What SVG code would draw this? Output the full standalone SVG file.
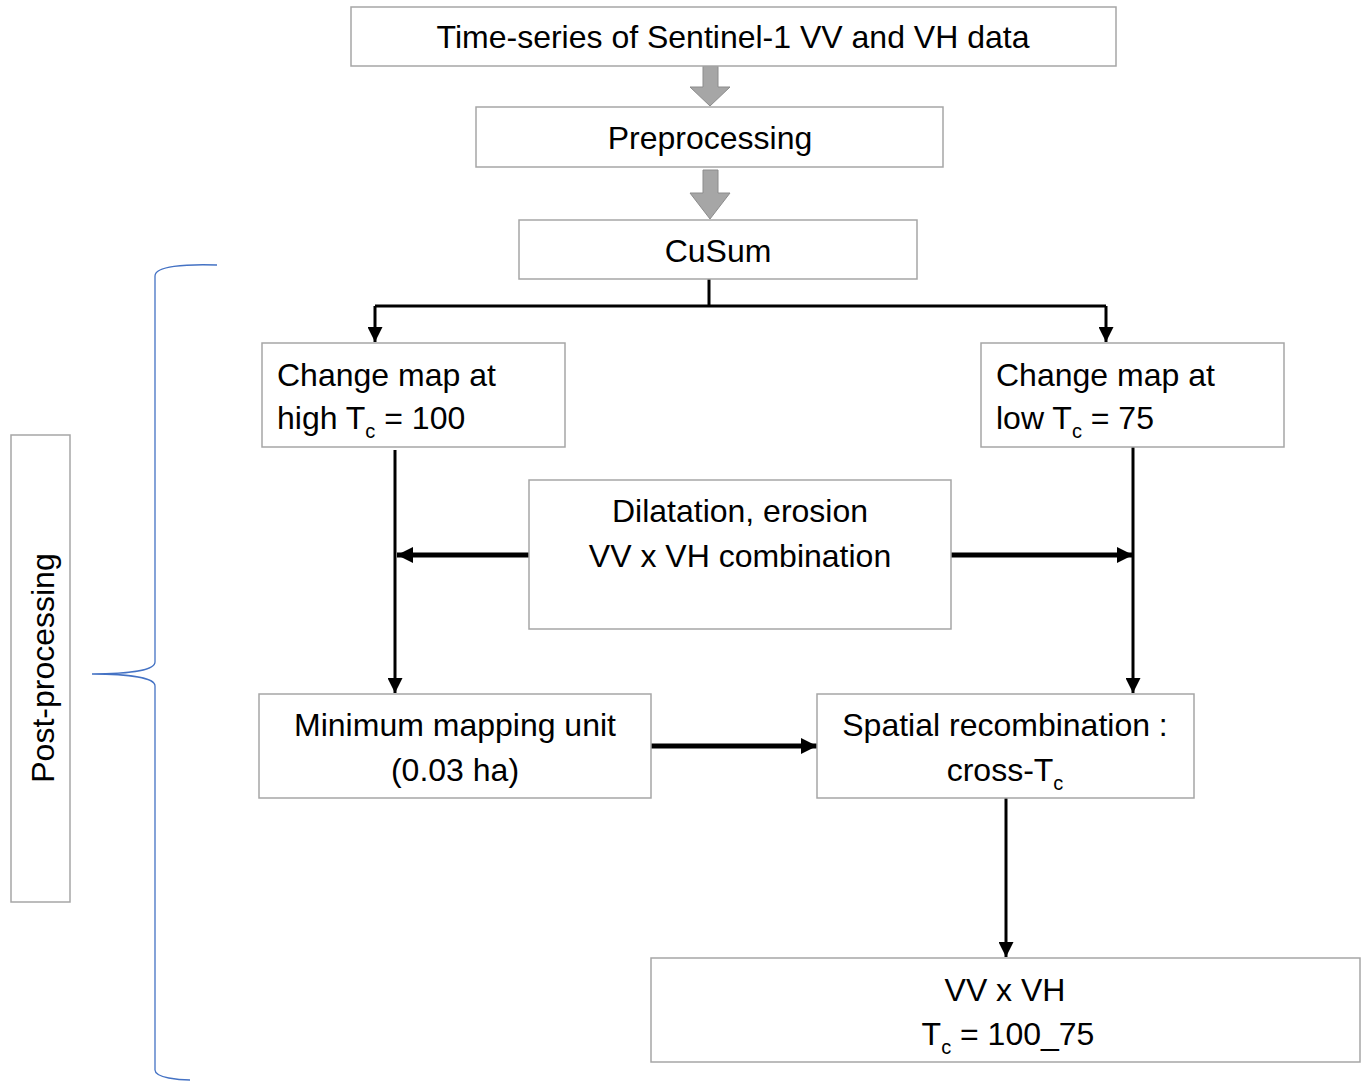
<svg xmlns="http://www.w3.org/2000/svg" width="1363" height="1082" viewBox="0 0 1363 1082">
<style>
.box{fill:#fff;stroke:#a6a6a6;stroke-width:1.5}
.t{font-family:"Liberation Sans",Arial,sans-serif;font-size:32px;fill:#000}
.c{text-anchor:middle}
.ln{stroke:#000;stroke-width:3;fill:none}
.thk{stroke:#000;stroke-width:5;fill:none}
.gray{fill:#a6a6a6;stroke:#8c8c8c;stroke-width:1}
</style>
<defs>
<marker id="ah" viewBox="0 0 10 10" refX="10" refY="5" markerWidth="5" markerHeight="5" orient="auto" markerUnits="strokeWidth">
<path d="M0,0 L10,5 L0,10 z" fill="#000"/>
</marker>
<marker id="ah2" viewBox="0 0 10 10" refX="10" refY="5" markerWidth="3.2" markerHeight="4" orient="auto" markerUnits="strokeWidth">
<path d="M0,0 L10,5 L0,10 z" fill="#000"/>
</marker>
</defs>
<g id="connectors">
<path class="gray" d="M703,66 H718 V87 H730 L710,106 L690,87 H703 Z"/>
<path class="gray" d="M703,170 H718 V193 H730 L710,219 L690,193 H703 Z"/>
<path class="ln" d="M709,279 V306"/>
<path class="ln" d="M375,306 H1106"/>
<path class="ln" marker-end="url(#ah)" d="M375,306 V342"/>
<path class="ln" marker-end="url(#ah)" d="M1106,306 V342"/>
<path class="ln" marker-end="url(#ah)" d="M395,450 V693"/>
<path class="ln" marker-end="url(#ah)" d="M1133,447 V693"/>
<path class="thk" marker-end="url(#ah2)" d="M529,555 H397"/>
<path class="thk" marker-end="url(#ah2)" d="M951,555 H1133"/>
<path class="thk" marker-end="url(#ah2)" d="M651,746 H817"/>
<path class="ln" marker-end="url(#ah)" d="M1006,798 V957"/>
</g>
<g id="brace">
<path d="M217,265 C185,264 155,266 155,276 L155,662 C155,670 130,674 92,674 C130,674 155,678 155,686 L155,1070 C155,1078 180,1080 190,1080" fill="none" stroke="#4472c4" stroke-width="1.3"/>
</g>
<g id="post">
<rect class="box" x="11" y="435" width="59" height="467"/>
<text class="t c" transform="translate(54,668) rotate(-90)">Post-processing</text>
</g>
<g id="n1">
<rect class="box" x="351" y="7" width="765" height="59"/>
<text class="t c" x="733" y="48">Time-series of Sentinel-1 VV and VH data</text>
</g>
<g id="n2">
<rect class="box" x="476" y="107" width="467" height="60"/>
<text class="t c" x="710" y="149">Preprocessing</text>
</g>
<g id="n3">
<rect class="box" x="519" y="220" width="398" height="59"/>
<text class="t c" x="718" y="262">CuSum</text>
</g>
<g id="n4">
<rect class="box" x="262" y="343" width="303" height="104"/>
<text class="t" x="277" y="386">Change map at</text>
<text class="t" x="277" y="429">high T<tspan font-size="20" dy="9">c</tspan><tspan dy="-9"> = 100</tspan></text>
</g>
<g id="n5">
<rect class="box" x="981" y="343" width="303" height="104"/>
<text class="t" x="996" y="386">Change map at</text>
<text class="t" x="996" y="429">low T<tspan font-size="20" dy="9">c</tspan><tspan dy="-9"> = 75</tspan></text>
</g>
<g id="n6">
<rect class="box" x="529" y="480" width="422" height="149"/>
<text class="t c" x="740" y="522">Dilatation, erosion</text>
<text class="t c" x="740" y="567">VV x VH combination</text>
</g>
<g id="n7">
<rect class="box" x="259" y="694" width="392" height="104"/>
<text class="t c" x="455" y="736">Minimum mapping unit</text>
<text class="t c" x="455" y="781">(0.03 ha)</text>
</g>
<g id="n8">
<rect class="box" x="817" y="694" width="377" height="104"/>
<text class="t c" x="1005" y="736">Spatial recombination :</text>
<text class="t c" x="1005" y="781">cross-T<tspan font-size="20" dy="9">c</tspan></text>
</g>
<g id="n9">
<rect class="box" x="651" y="958" width="709" height="104"/>
<text class="t c" x="1005" y="1001">VV x VH</text>
<text class="t c" x="1008" y="1045">T<tspan font-size="20" dy="9">c</tspan><tspan dy="-9"> = 100_75</tspan></text>
</g>
</svg>
